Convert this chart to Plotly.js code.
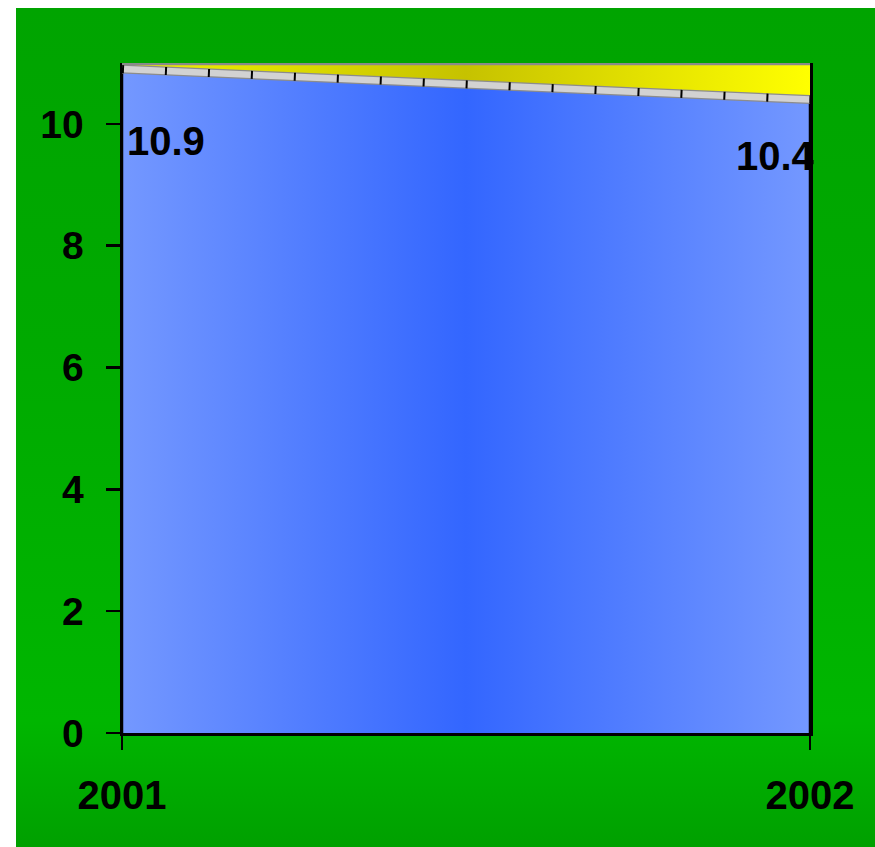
<!DOCTYPE html>
<html>
<head>
<meta charset="utf-8">
<script src="https://cdn.plot.ly/plotly-3.0.1.min.js"></script>
<style>
  html, body { margin: 0; padding: 0; background: #ffffff; width: 875px; height: 847px; overflow: hidden; }
  #chart {
    position: absolute; left: 16px; top: 8px; width: 859px; height: 839px;
    background: linear-gradient(to bottom, #00a400 0%, #00aa00 40%, #00b600 85%, #00a000 100%);
  }
</style>
</head>
<body>
<div id="chart"></div>
<script>
// ---- data ----
const years = [2001, 2002];
const values = [10.9, 10.4];
const yTickVals = [0, 2, 4, 6, 8, 10];
const yTickText = ['0', '2', '4', '6', '8', '10'];
const xTickText = ['2001', '2002'];
const yMax = 11;

const FONT = 'Liberation Sans, Arial, sans-serif';

// polygon for the area (built from data)
const polyX = [years[0]].concat(years, [years[years.length - 1]]);
const polyY = [0].concat(values, [0]);
const topY = years.map(() => yMax);

const traces = [
  // base for the yellow fill
  { x: years, y: values, mode: 'lines', line: { width: 0, color: 'rgba(0,0,0,0)' },
    hoverinfo: 'skip', showlegend: false },
  // yellow band above the series (to the top of the plot)
  { x: years, y: topY, mode: 'lines', fill: 'tonexty',
    fillgradient: { type: 'horizontal', colorscale: [[0, '#f2f200'], [0.5, '#c6c200'], [1, '#ffff00']] },
    line: { width: 4.5, color: '#8a8a8a' }, hoverinfo: 'skip', showlegend: false },
  // blue area
  { x: polyX, y: polyY, mode: 'lines', fill: 'toself',
    fillgradient: { type: 'horizontal', colorscale: [[0, '#7498ff'], [0.5, '#3366ff'], [1, '#7498ff']] },
    line: { width: 2.5, color: '#000000' }, hoverinfo: 'skip', showlegend: false },
  // hatched line: outer border
  { x: years, y: values, mode: 'lines', line: { width: 9, color: '#8c8c8c' },
    hoverinfo: 'skip', showlegend: false },
  // hatched line: inner
  { x: years, y: values, mode: 'lines', line: { width: 6.5, color: '#d2d2d2' },
    hoverinfo: 'skip', showlegend: false },
  // black tick marks along the line
  { x: years, y: values, mode: 'lines', line: { width: 8, color: '#000000', dash: '2px,41px' },
    hoverinfo: 'skip', showlegend: false }
];

const annotations = values.map((v, i) => ({
  x: years[i], y: v, xref: 'x', yref: 'y',
  text: v.toFixed(1), showarrow: false,
  xanchor: i === 0 ? 'left' : 'right',
  yanchor: 'middle',
  xshift: i === 0 ? 3 : 7,
  yshift: i === 0 ? -72 : -56,
  font: { family: FONT, size: 40, color: '#000000', weight: 'bold' }
}));

const layout = {
  width: 859, height: 839,
  margin: { l: 106, r: 65, t: 55, b: 114 },
  paper_bgcolor: 'rgba(0,0,0,0)',
  plot_bgcolor: 'rgba(0,0,0,0)',
  showlegend: false,
  xaxis: {
    type: 'linear', range: [years[0], years[years.length - 1]],
    tickmode: 'array', tickvals: years, ticktext: xTickText,
    ticks: 'outside', ticklen: 14, tickwidth: 2.5, tickcolor: '#000000',
    showline: true, linecolor: '#000000', linewidth: 2.5,
    showgrid: false, zeroline: false, ticklabelstandoff: 11,
    tickfont: { family: FONT, size: 40, color: '#000000', weight: 'bold' },
    fixedrange: true
  },
  yaxis: {
    range: [0, yMax], tickmode: 'array', tickvals: yTickVals, ticktext: yTickText,
    ticks: 'outside', ticklen: 14, tickwidth: 2.5, tickcolor: '#000000',
    showline: true, mirror: true, linecolor: '#000000', linewidth: 2.5,
    showgrid: false, zeroline: false, ticklabelstandoff: 14,
    tickfont: { family: FONT, size: 39, color: '#000000', weight: 'bold' },
    fixedrange: true
  },
  annotations: annotations
};

Plotly.newPlot('chart', traces, layout, { displayModeBar: false, staticPlot: true });
</script>
</body>
</html>
